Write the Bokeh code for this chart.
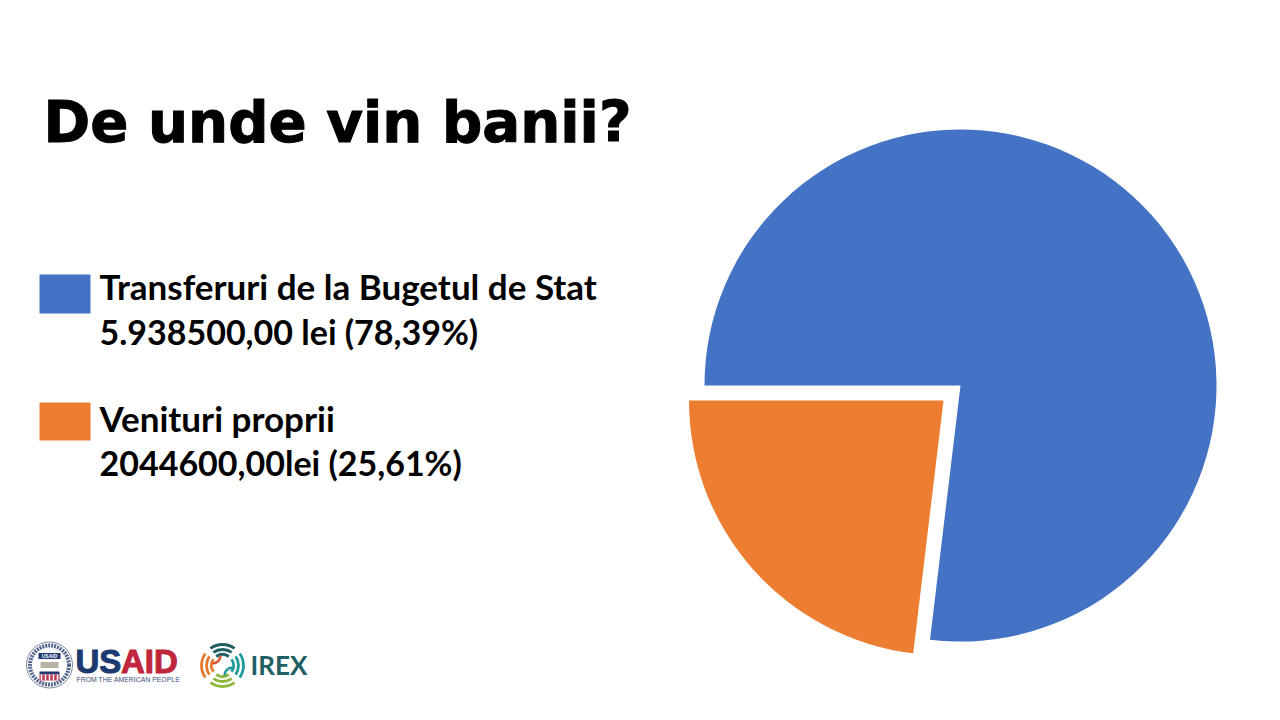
from bokeh.plotting import figure
from bokeh.models import Range1d
from bokeh.core.properties import value
from bokeh.embed import file_html
from bokeh.resources import INLINE
import math

# --- data ---
title = "De unde vin banii?"
categories = ["Transferuri de la Bugetul de Stat", "Venituri proprii"]
amount_labels = ["5.938500,00 lei (78,39%)", "2044600,00lei (25,61%)"]
shares = [76.9, 23.1]
colors = ["#4472C4", "#ED7D31"]

# --- layout (reference pixels, y measured from the top of the window) ---
W, H = 1264, 704
def Y(py):
    return 720 - py

CX, CY = 960, 385
RADII = [256, 254.5]
EXPLODE = [0, 22.7]
START = math.pi  # blue starts at 9 o'clock and runs clockwise

p = figure(width=W, height=H, x_range=Range1d(0, 1264), y_range=Range1d(16, 720),
           output_backend="svg", toolbar_location=None, min_border=0)
p.axis.visible = False
p.grid.visible = False
p.outline_line_color = None

# pie
a = START
for share, col, ex, rad in zip(shares, colors, EXPLODE, RADII):
    sweep = share / sum(shares) * 2 * math.pi
    end = a - sweep
    mid = (a + end) / 2
    x = CX + ex * math.cos(mid)
    y = Y(CY) + ex * math.sin(mid)
    p.wedge(x=[x], y=[y], radius=rad, start_angle=[end], end_angle=[a],
            fill_color=col, line_color=None)
    a = end

# title
p.text(x=[43], y=[Y(122)], text=[title], text_font=value("DejaVu Sans"), text_font_style="bold",
       text_font_size="56.3px", text_baseline="middle", text_color="#000000",
       text_outline_color="#000000")

# legend
for i, (cat, amt, col) in enumerate(zip(categories, amount_labels, colors)):
    top = [274, 402][i]
    bot = [313, 440][i]
    p.quad(left=[39], right=[90], top=[Y(top)], bottom=[Y(bot)], fill_color=col, line_color=None)
    ty = [285, 417][i]
    ty2 = [331, 462][i]
    p.text(x=[99], y=[Y(ty)], text=[cat], text_font=value("Lato"), text_font_style="bold",
           text_font_size="35px", text_baseline="middle", text_color="#000000")
    p.text(x=[99], y=[Y(ty2)], text=[amt], text_font=value("Lato"),
           text_font_style="bold", text_font_size="34px", text_baseline="middle", text_color="#000000")

# USAID logo
SX, SY = 49, 664.5
p.circle(x=[SX], y=[Y(SY)], radius=23, fill_color="#ffffff", line_color="#7d89a3", line_width=1)
p.circle(x=[SX], y=[Y(SY)], radius=19.5, fill_color=None, line_color="#55658c", line_width=4, line_dash="2 1")
p.quad(left=[38], right=[60], top=[Y(652.5)], bottom=[Y(658.5)], fill_color="#1c3a70", line_color=None)
p.text(x=[49], y=[Y(655.7)], text=["USAID"], text_font=value("Liberation Sans"), text_font_style="bold",
       text_font_size="5px", text_baseline="middle", text_align="center", text_color="#ffffff")
p.quad(left=[40], right=[58], top=[Y(661.5)], bottom=[Y(667.5)], fill_color="#b5b3a8", line_color=None)
p.quad(left=[39], right=[59], top=[Y(671)], bottom=[Y(674)], fill_color="#1c3a70", line_color=None)
p.quad(left=[39], right=[59], top=[Y(674)], bottom=[Y(680)], fill_color="#c0364a", line_color=None)
for sx in range(41, 59, 4):
    p.segment(x0=[sx], y0=[Y(674)], x1=[sx], y1=[Y(680)], line_color="#ffffff", line_width=1.5)
p.text(x=[75], y=[Y(661)], text=["US"], text_font=value("Liberation Sans"), text_font_style="bold",
       text_font_size="33px", text_baseline="middle", text_color="#1c3a70", text_outline_color="#1c3a70")
p.text(x=[120.5], y=[Y(661)], text=["AID"], text_font=value("Liberation Sans"), text_font_style="bold",
       text_font_size="33px", text_baseline="middle", text_color="#c0263c", text_outline_color="#c0263c")
p.text(x=[76], y=[Y(679)], text=["FROM THE AMERICAN PEOPLE"], text_font=value("Liberation Sans"),
       text_font_size="6.9px", text_baseline="middle", text_color="#3a4f7c")

# IREX logo
IX, IY = 222, 665
arcs = [("#1f5f63", 55, 125), ("#e8792b", 145, 215), ("#8db83c", 235, 305), ("#1f9a9a", -35, 35)]
for col, s, e in arcs:
    for r in (11, 16, 21):
        p.arc(x=[IX], y=[Y(IY)], radius=r, start_angle=math.radians(s), end_angle=math.radians(e),
              line_color=col, line_width=2.8)
p.arc(x=[IX - 10], y=[Y(IY) + 10], radius=8, start_angle=math.radians(-90), end_angle=math.radians(0),
      line_color="#d9532c", line_width=2.5)
p.arc(x=[IX + 10], y=[Y(IY) - 10], radius=8, start_angle=math.radians(90), end_angle=math.radians(180),
      line_color="#1f9a9a", line_width=2.5)
p.text(x=[250], y=[Y(664)], text=["IREX"], text_font=value("Lato"), text_font_style="bold", text_font_size="26px",
       text_baseline="middle", text_color="#1f5f63")

open("out.html", "w").write(file_html(p, INLINE))
